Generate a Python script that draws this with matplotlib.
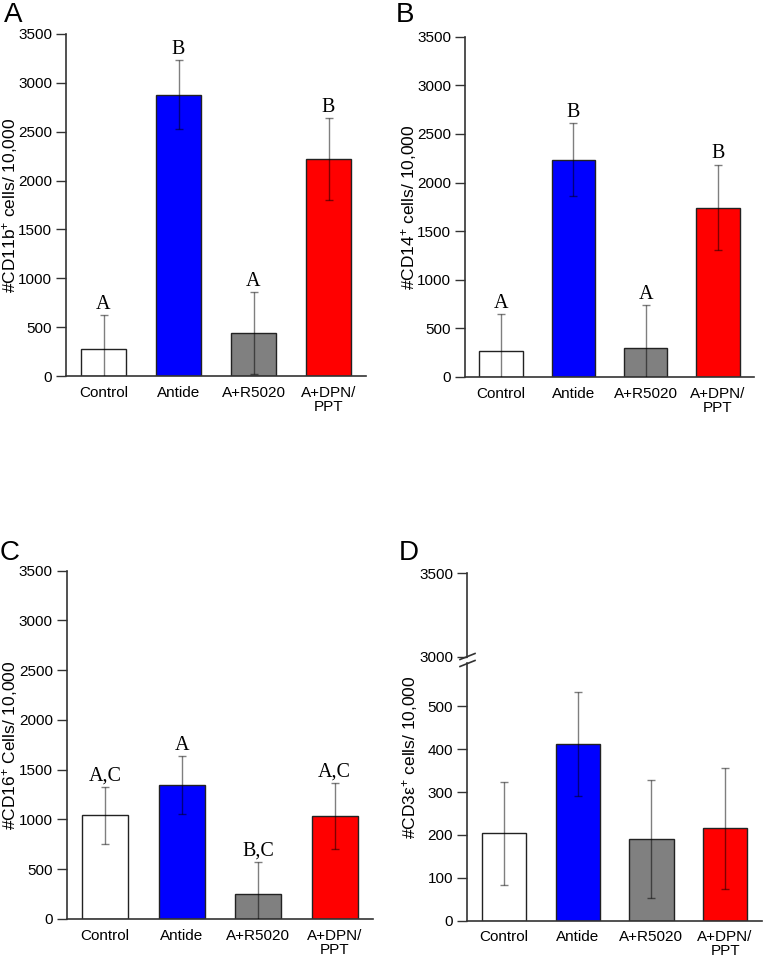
import matplotlib
matplotlib.use("Agg")
import matplotlib.pyplot as plt
import numpy as np

plt.rcParams['font.family'] = ['Liberation Sans', 'DejaVu Sans']
plt.rcParams['mathtext.fontset'] = 'custom'
plt.rcParams['mathtext.rm'] = 'Liberation Sans'
plt.rcParams['mathtext.it'] = 'Liberation Sans:italic'

categories = ["Control", "Antide", "A+R5020", "A+DPN/\nPPT"]
colors = ["#FFFFFF", "#0000FF", "#808080", "#FF0000"]

cd11b = [272, 2880, 440, 2220]
cd11b_err = [352, 350, 418, 420]
cd11b_letters = ["A", "B", "A", "B"]

cd14 = [266, 2234, 302, 1743]
cd14_err = [378, 376, 436, 440]
cd14_letters = ["A", "B", "A", "B"]

cd16 = [1042, 1345, 248, 1032]
cd16_err = [287, 293, 328, 332]
cd16_letters = ["A,C", "A", "B,C", "A,C"]

cd3e = [204, 411, 190, 215]
cd3e_err = [120, 121, 138, 140]

yticks_main = [0, 500, 1000, 1500, 2000, 2500, 3000, 3500]

W, H = 764, 958
fig = plt.figure(figsize=(W / 100, H / 100), dpi=100)


def add_ax(left, right, top, bottom):
    return fig.add_axes([left / W, 1 - bottom / H, (right - left) / W, (bottom - top) / H])


SPINE = "#333333"


def style(ax, yticks, ylim, show_x=True):
    ax.set_xlim(-0.5, 3.5)
    ax.set_ylim(*ylim)
    ax.set_yticks(yticks)
    for s in ["top", "right"]:
        ax.spines[s].set_visible(False)
    for s in ["left", "bottom"]:
        ax.spines[s].set_color(SPINE)
        ax.spines[s].set_linewidth(1.2)
    ax.tick_params(axis='y', direction='out', length=7, width=1.0, color=SPINE,
                   labelsize=11, pad=3)
    if show_x:
        ax.set_xticks(range(4))
        ax.set_xticklabels(categories, fontsize=11, linespacing=1.0)
        ax.tick_params(axis='x', length=0, pad=7)
    else:
        ax.set_xticks([])


def bars(ax, vals, errs, letters=None):
    x = np.arange(len(vals))
    ax.bar(x, vals, width=0.6, color=colors, edgecolor="#222222", linewidth=1.0, zorder=2)
    ax.errorbar(x, vals, yerr=errs, fmt='none', ecolor=(0, 0, 0, 0.5), elinewidth=1.0,
                capsize=3, capthick=1.0, zorder=3)
    if letters:
        for xi, v, e, t in zip(x, vals, errs, letters):
            ax.annotate(t, (xi, v + e), xytext=(0, 1), textcoords='offset points',
                        ha='center', va='bottom', fontsize=14.5,
                        family='Liberation Serif', zorder=4)


# Panel A
axA = add_ax(66, 366, 34, 376)
bars(axA, cd11b, cd11b_err, cd11b_letters)
style(axA, yticks_main, (0, 3500))
fig.text(10 / W, 1 - 205 / H, "#CD11b$^{+}$ cells/ 10,000", rotation=90,
         ha='center', va='center', fontsize=12.5)
fig.text(4 / W, 1 - 22 / H, "A", fontsize=20)

# Panel B
axB = add_ax(465, 754, 36.7, 377)
bars(axB, cd14, cd14_err, cd14_letters)
style(axB, yticks_main, (0, 3500))
fig.text(409 / W, 1 - 207 / H, "#CD14$^{+}$ cells/ 10,000", rotation=90,
         ha='center', va='center', fontsize=12.5)
fig.text(396 / W, 1 - 22 / H, "B", fontsize=20)

# Panel C
axC = add_ax(66.7, 373, 570.7, 919)
bars(axC, cd16, cd16_err, cd16_letters)
style(axC, yticks_main, (0, 3500))
fig.text(10 / W, 1 - 745 / H, "#CD16$^{+}$ Cells/ 10,000", rotation=90,
         ha='center', va='center', fontsize=12.5)
fig.text(0 / W, 1 - 560 / H, "C", fontsize=20)

# Panel D (broken axis)
axD = add_ax(467, 762, 663.3, 920.7)
bars(axD, cd3e, cd3e_err)
style(axD, [0, 100, 200, 300, 400, 500], (0, 600))
axD2 = add_ax(467, 762, 573.3, 656.7)
style(axD2, [3000, 3500], (3000, 3500), show_x=False)
axD2.spines['bottom'].set_visible(False)
# break marks
for yy in (656.5, 663.5):
    fig.add_artist(plt.Line2D([460 / W, 475 / W], [1 - (yy + 3) / H, 1 - (yy - 3) / H],
                              color=SPINE, lw=1.2))
fig.text(410 / W, 1 - 757 / H, "#CD3\u03b5$^{+}$ cells/ 10,000", rotation=90,
         ha='center', va='center', fontsize=12.5)
fig.text(399 / W, 1 - 560 / H, "D", fontsize=20)

fig.savefig("out.png", dpi=100)
